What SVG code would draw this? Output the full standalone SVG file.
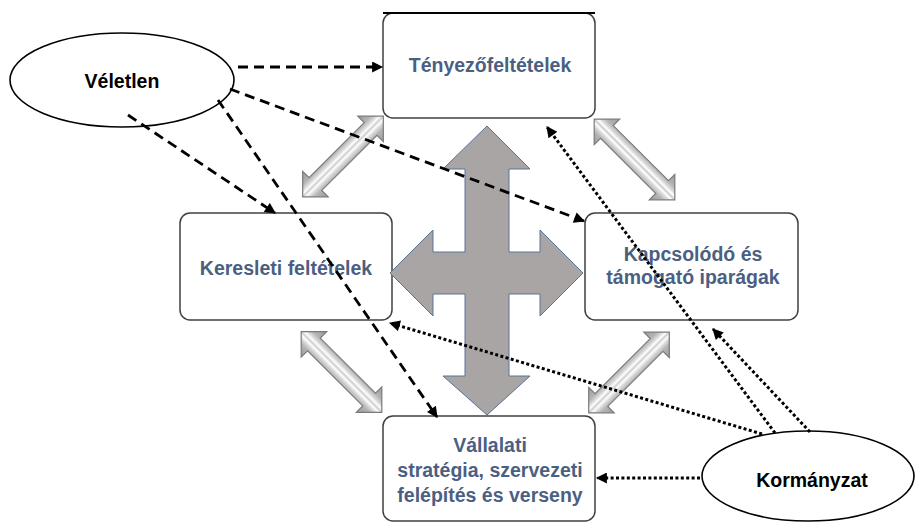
<svg xmlns="http://www.w3.org/2000/svg" width="915" height="523" viewBox="0 0 915 523">
<style>
.box{fill:#fff;stroke:#404040;stroke-width:1.5}
.ell{fill:#fff;stroke:#000;stroke-width:1.6}
.bt{font-family:"Liberation Sans",Arial,sans-serif;font-weight:bold;font-size:19.5px;fill:#4b5f82;text-anchor:middle}
.et{font-family:"Liberation Sans",Arial,sans-serif;font-weight:bold;font-size:19.5px;fill:#000;text-anchor:middle}
.dash{fill:none;stroke:#000;stroke-width:2.8;stroke-dasharray:10 6;marker-end:url(#ah)}
.dot{fill:none;stroke:#000;stroke-width:3;stroke-dasharray:3 2.4;marker-end:url(#ah)}
.dbl{fill:url(#dg);stroke:#7a7a7a;stroke-width:1.2}
</style>
<defs>
<marker id="ah" viewBox="0 0 10 10" refX="9" refY="5" markerUnits="userSpaceOnUse" markerWidth="13" markerHeight="11" orient="auto">
<path d="M0,0 L10,5 L0,10 Z" fill="#000"/>
</marker>
<linearGradient id="dg" x1="0" y1="0" x2="0" y2="1">
<stop offset="0" stop-color="#9a9a9a"/>
<stop offset="0.26" stop-color="#b4b4b4"/>
<stop offset="0.37" stop-color="#dadada"/>
<stop offset="0.44" stop-color="#ffffff"/>
<stop offset="0.5" stop-color="#cdcdcd"/>
<stop offset="0.56" stop-color="#ffffff"/>
<stop offset="0.63" stop-color="#dadada"/>
<stop offset="0.74" stop-color="#b4b4b4"/>
<stop offset="1" stop-color="#9a9a9a"/>
</linearGradient>
<path id="darrow" d="M-57,0 L-39,-18 L-39,-9 L39,-9 L39,-18 L57,0 L39,18 L39,9 L-39,9 L-39,18 Z"/>
</defs>

<g id="tenyezo">
<rect class="box" x="383" y="13" width="212" height="105" rx="10"/>
<line x1="383" y1="13" x2="595" y2="13" stroke="#000" stroke-width="2"/>
<text class="bt" x="490" y="72">Tényezőfeltételek</text>
</g>
<g id="keresleti">
<rect class="box" x="180" y="213" width="212" height="107" rx="10"/>
<text class="bt" x="286" y="275">Keresleti feltételek</text>
</g>
<g id="kapcsolodo">
<rect class="box" x="585" y="213" width="213" height="107" rx="10"/>
<text class="bt" x="693" y="261">Kapcsolódó és</text>
<text class="bt" x="693" y="284">támogató iparágak</text>
</g>
<g id="vallalati">
<rect class="box" x="383" y="416" width="212" height="105" rx="10"/>
<text class="bt" x="490" y="452">Vállalati</text>
<text class="bt" x="490" y="477">stratégia, szervezeti</text>
<text class="bt" x="490" y="502">felépítés és verseny</text>
</g>
<g id="veletlen">
<ellipse class="ell" cx="122" cy="80" rx="112" ry="47"/>
<text class="et" x="122" y="88">Véletlen</text>
</g>
<g id="kormanyzat">
<ellipse class="ell" cx="808" cy="476" rx="106" ry="45"/>
<text class="et" x="812" y="487">Kormányzat</text>
</g>

<g id="cross">
<path d="M487,126 L530,169 L509,169 L509,252 L540,252 L540,230 L583,273 L540,316 L540,294 L509,294 L509,376 L530,376 L487,415 L443,376 L465,376 L465,294 L433,294 L433,316 L390,273 L433,230 L433,252 L465,252 L465,169 L443,169 Z" fill="#a9a5a5" stroke="#5b7398" stroke-width="1"/>
</g>

<g id="double-arrows">
<use href="#darrow" class="dbl" transform="translate(343,156.5) rotate(-45)"/>
<use href="#darrow" class="dbl" transform="translate(634.5,159.5) rotate(45)"/>
<use href="#darrow" class="dbl" transform="translate(341.5,372) rotate(45)"/>
<use href="#darrow" class="dbl" transform="translate(629,372.5) rotate(-45)"/>
</g>

<g id="connectors">
<path class="dash" d="M238,67 L382,67"/>
<path class="dash" d="M230,89 L584,221"/>
<path class="dash" d="M128,115 L275,213"/>
<path class="dash" d="M218,100 L437,417"/>
<path class="dot" d="M775,433 L547,127"/>
<path class="dot" d="M810,432 L713,329"/>
<path class="dot" d="M762,434 L390,323"/>
<path class="dot" d="M700,478 L597,478"/>
</g>
</svg>
